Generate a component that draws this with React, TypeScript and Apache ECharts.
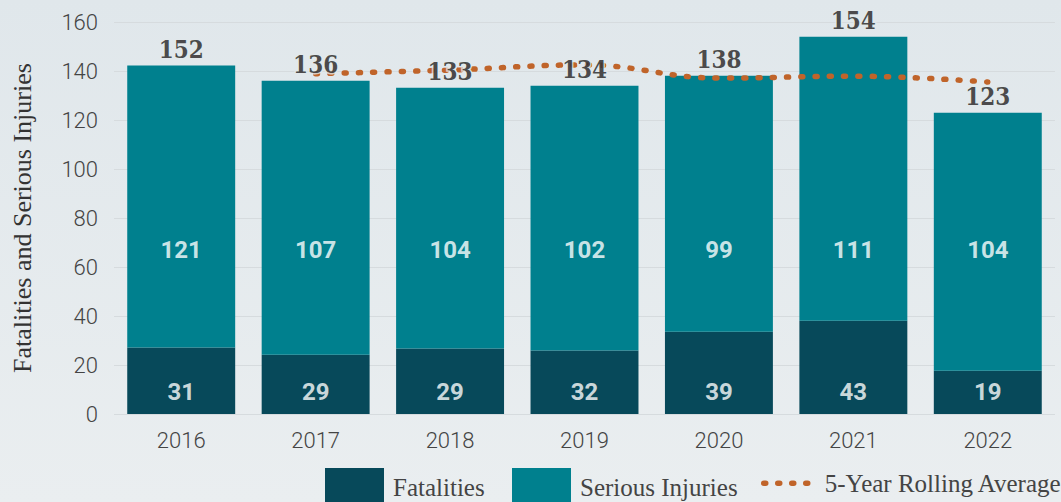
import React, { useEffect, useRef } from "react";
import * as echarts from "echarts";

const years = ["2016", "2017", "2018", "2019", "2020", "2021", "2022"];
// bar heights as drawn
const fatalBar = [27.1, 24.2, 26.7, 25.9, 33.6, 38.1, 17.7];
const seriousBar = [115.1, 111.8, 106.5, 108.1, 104.5, 115.9, 105.3];
// printed values
const fatalLabels = [31, 29, 29, 32, 39, 43, 19];
const seriousLabels = [121, 107, 104, 102, 99, 111, 104];
const totalLabels = [152, 136, 133, 134, 138, 154, 123];
const rollingAvg: (number | null)[] = [null, 138.9, 140.4, 142.5, 137.1, 137.9, 135.5];
const yTicks = { min: 0, max: 160, interval: 20 };
const legendNames = ["Fatalities", "Serious Injuries", "5-Year Rolling Average"];

const DARK = "#07495a";
const TEAL = "#00808e";
const ORANGE = "#c0642a";
const BG_TOP = "#e0e7eb";
const BG_BOT = "#eaeef0";

export default function App() {
  const ref = useRef<HTMLDivElement>(null);
  useEffect(() => {
    if (!ref.current) return;
    const chart = echarts.init(ref.current, null, { renderer: "svg" });
    const totals = fatalBar.map((f, i) => f + seriousBar[i]);
    const legendText = {
      fontFamily: "Liberation Serif",
      fontSize: 25,
      color: "#444",
      padding: [0, 0, 0, 4],
    };
    const legendBase = { top: 468, padding: 0, itemHeight: 38, textStyle: legendText };
    const legends = [
      { ...legendBase, left: 325, itemWidth: 59, icon: "rect", data: [legendNames[0]] },
      { ...legendBase, left: 512, itemWidth: 59, icon: "rect", data: [legendNames[1]] },
      {
        ...legendBase,
        left: 761,
        itemWidth: 52,
        itemStyle: { opacity: 0 },
        lineStyle: { width: 5.5, type: [2, 12], cap: "round", color: ORANGE },
        data: [legendNames[2]],
      },
    ];
    chart.setOption({
      animation: false,
      backgroundColor: new echarts.graphic.LinearGradient(0, 0, 0, 1, [
        { offset: 0, color: BG_TOP },
        { offset: 1, color: BG_BOT },
      ]),
      grid: {
        left: 114,
        right: 6,
        top: 22,
        bottom: 88,
        containLabel: false,
        outerBoundsMode: "none",
      },
      legend: legends,
      xAxis: {
        type: "category",
        data: years,
        axisLine: { show: false },
        axisTick: { show: false },
        axisLabel: {
          fontFamily: "Roboto",
          fontWeight: 300,
          fontSize: 22,
          color: "#444",
          margin: 15,
        },
      },
      yAxis: {
        type: "value",
        min: yTicks.min,
        max: yTicks.max,
        interval: yTicks.interval,
        name: "Fatalities and Serious Injuries",
        nameLocation: "middle",
        nameGap: 79,
        nameRotate: 90,
        nameTextStyle: {
          fontFamily: "Liberation Serif",
          fontSize: 26,
          color: "#333",
        },
        axisLine: { show: false },
        axisTick: { show: false },
        splitLine: { show: true, lineStyle: { color: "#d6dbde", width: 1 } },
        axisLabel: {
          fontFamily: "Roboto",
          fontWeight: 300,
          fontSize: 22,
          color: "#444",
          margin: 16,
          verticalAlign: "middle",
          padding: [12, 0, 0, 0],
        },
      },
      series: [
        {
          name: "Fatalities",
          type: "bar",
          stack: "t",
          barCategoryGap: "19.7%",
          itemStyle: { color: DARK },
          data: fatalBar,
        },
        {
          name: "Serious Injuries",
          type: "bar",
          stack: "t",
          barCategoryGap: "19.7%",
          itemStyle: { color: TEAL },
          data: seriousBar,
        },
        {
          name: "5-Year Rolling Average",
          type: "line",
          smooth: 0.4,
          symbol: "none",
          z: 3,
          itemStyle: { color: ORANGE },
          lineStyle: {
            color: ORANGE,
            width: 5.5,
            type: [2, 12.3],
            cap: "round",
          },
          data: rollingAvg,
        },
        {
          name: "fatalLbl",
          type: "scatter",
          symbolSize: 0,
          z: 10,
          silent: true,
          data: fatalLabels.map((v, i) => [i, 8.8, v]),
          label: {
            show: true,
            position: "inside",
            formatter: (p: any) => String(p.value[2]),
            fontFamily: "Roboto",
            fontWeight: 700,
            fontSize: 24,
            color: "#ffffff",
          },
        },
        {
          name: "seriousLbl",
          type: "scatter",
          symbolSize: 0,
          z: 10,
          silent: true,
          data: seriousLabels.map((v, i) => [i, 67.1, v]),
          label: {
            show: true,
            position: "inside",
            formatter: (p: any) => String(p.value[2]),
            fontFamily: "Roboto",
            fontWeight: 700,
            fontSize: 24,
            color: "#ffffff",
          },
        },
        {
          name: "totalLbl",
          type: "scatter",
          symbolSize: 0,
          z: 10,
          silent: true,
          data: totals.map((t, i) => [i, t, totalLabels[i]]),
          label: {
            show: true,
            position: "top",
            distance: 4,
            formatter: (p: any) => String(p.value[2]),
            fontFamily: "DejaVu Serif Condensed, DejaVu Serif",
            fontWeight: 700,
            fontSize: 24,
            color: "#231f20",
            textBorderColor: "#e2e8eb",
            textBorderWidth: 3,
          },
        },
      ],
    });
    return () => chart.dispose();
  }, []);
  return (
    <div
      ref={ref}
      style={{ position: "fixed", left: 0, top: 0, width: 1061, height: 502 }}
    />
  );
}
